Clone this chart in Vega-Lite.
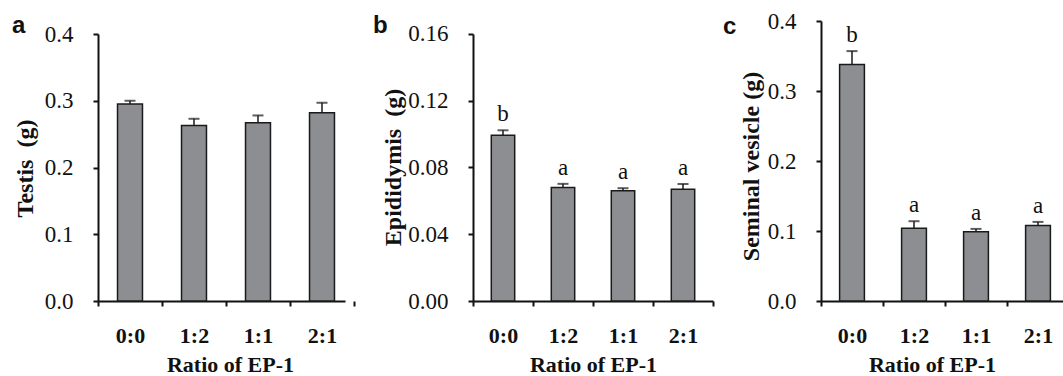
{
  "$schema": "https://vega.github.io/schema/vega-lite/v6.json",
  "autosize": {"type": "none"},
  "padding": {"left": 98, "top": 21, "right": 965, "bottom": 355},
  "background": "white",
  "datasets": {
    "organs": [
      {"organ": "Testis", "ratio": "0:0", "mean": 0.295, "hi": 0.300, "sig": ""},
      {"organ": "Testis", "ratio": "1:2", "mean": 0.263, "hi": 0.273, "sig": ""},
      {"organ": "Testis", "ratio": "1:1", "mean": 0.267, "hi": 0.278, "sig": ""},
      {"organ": "Testis", "ratio": "2:1", "mean": 0.282, "hi": 0.297, "sig": ""},
      {"organ": "Epididymis", "ratio": "0:0", "mean": 0.0993, "hi": 0.1023, "sig": "b"},
      {"organ": "Epididymis", "ratio": "1:2", "mean": 0.0680, "hi": 0.0702, "sig": "a"},
      {"organ": "Epididymis", "ratio": "1:1", "mean": 0.0661, "hi": 0.0676, "sig": "a"},
      {"organ": "Epididymis", "ratio": "2:1", "mean": 0.0670, "hi": 0.0701, "sig": "a"},
      {"organ": "Seminal vesicle", "ratio": "0:0", "mean": 0.338, "hi": 0.357, "sig": "b"},
      {"organ": "Seminal vesicle", "ratio": "1:2", "mean": 0.104, "hi": 0.114, "sig": "a"},
      {"organ": "Seminal vesicle", "ratio": "1:1", "mean": 0.099, "hi": 0.103, "sig": "a"},
      {"organ": "Seminal vesicle", "ratio": "2:1", "mean": 0.108, "hi": 0.113, "sig": "a"}
    ]
  },
  "config": {
    "view": {"stroke": null},
    "axis": {
      "domainColor": "#111111", "domainWidth": 2, "tickColor": "#111111", "tickWidth": 2, "tickSize": 5,
      "labelColor": "#111111", "titleColor": "#111111", "grid": false,
      "labelFont": "Liberation Serif", "titleFont": "Liberation Serif", "titleFontWeight": "bold"
    },
    "axisY": {"labelFontSize": 23, "labelPadding": 20, "titleFontSize": 24, "titlePadding": 7},
    "axisX": {"labelAngle": 0, "labelFontSize": 22, "labelFontWeight": "bold", "labelPadding": 19, "titleFontSize": 22, "titlePadding": 8, "tickBand": "extent"},
    "title": {"anchor": "start", "frame": "group", "font": "Liberation Sans", "fontSize": 24, "fontWeight": "bold", "color": "#111111", "offset": 0, "baseline": "alphabetic"}
  },
  "spacing": 108,
  "bounds": "flush",
  "hconcat": [
    {
      "width": 267, "height": 280,
      "title": {"text": "a", "dx": -86, "dy": 21},
      "data": {"name": "organs"},
      "transform": [{"filter": "datum.organ == 'Testis'"}],
      "encoding": {
        "x": {"field": "ratio", "type": "nominal", "sort": ["0:0", "1:2", "1:1", "2:1"],
              "scale": {"paddingInner": 0, "paddingOuter": 0.086, "align": 0},
              "axis": {"title": "Ratio of EP-1", "domainDash": [247, 100], "titleX": 132}}
      },
      "layer": [
        {"mark": {"type": "bar", "width": {"band": 0.39}, "fill": "#8d8e92", "stroke": "#1a1a1a", "strokeWidth": 1.5},
         "encoding": {"y": {"field": "mean", "type": "quantitative", "scale": {"domain": [0, 0.41948], "nice": false},
                            "axis": {"title": "Testis\u00a0\u00a0(g)", "values": [0, 0.1, 0.2, 0.3, 0.4], "format": ".1f", "domainDash": [267, 100], "titleY": 147}}}},
        {"mark": {"type": "rule", "color": "#1a1a1a", "strokeWidth": 1.5},
         "encoding": {"y": {"field": "mean", "type": "quantitative"}, "y2": {"field": "hi"}}},
        {"mark": {"type": "tick", "color": "#1a1a1a", "size": 11, "thickness": 2},
         "encoding": {"y": {"field": "hi", "type": "quantitative"}}}
      ]
    },
    {
      "width": 240, "height": 280,
      "title": {"text": "b", "dx": -100, "dy": 21},
      "data": {"name": "organs"},
      "transform": [{"filter": "datum.organ == 'Epididymis'"}],
      "encoding": {
        "x": {"field": "ratio", "type": "nominal", "sort": ["0:0", "1:2", "1:1", "2:1"],
              "scale": {"paddingInner": 0, "paddingOuter": 0},
              "axis": {"title": "Ratio of EP-1"}}
      },
      "layer": [
        {"mark": {"type": "bar", "width": {"band": 0.39}, "fill": "#8d8e92", "stroke": "#1a1a1a", "strokeWidth": 1.5},
         "encoding": {"y": {"field": "mean", "type": "quantitative", "scale": {"domain": [0, 0.16779], "nice": false},
                            "axis": {"title": "Epididymis\u00a0\u00a0(g)", "values": [0, 0.04, 0.08, 0.12, 0.16], "format": ".2f", "domainDash": [267, 100], "titleY": 146, "titlePadding": 2}}}},
        {"mark": {"type": "rule", "color": "#1a1a1a", "strokeWidth": 1.5},
         "encoding": {"y": {"field": "mean", "type": "quantitative"}, "y2": {"field": "hi"}}},
        {"mark": {"type": "tick", "color": "#1a1a1a", "size": 11, "thickness": 2},
         "encoding": {"y": {"field": "hi", "type": "quantitative"}}},
        {"mark": {"type": "text", "font": "Liberation Serif", "fontSize": 23, "color": "#111111", "baseline": "alphabetic", "dy": -9},
         "encoding": {"y": {"field": "hi", "type": "quantitative"}, "text": {"field": "sig"}}}
      ]
    },
    {
      "width": 248, "height": 280,
      "title": {"text": "c", "dx": -98, "dy": 33},
      "data": {"name": "organs"},
      "transform": [{"filter": "datum.organ == 'Seminal vesicle'"}],
      "encoding": {
        "x": {"field": "ratio", "type": "nominal", "sort": ["0:0", "1:2", "1:1", "2:1"],
              "scale": {"paddingInner": 0, "paddingOuter": 0},
              "axis": {"title": "Ratio of EP-1", "titleX": 111}}
      },
      "layer": [
        {"mark": {"type": "bar", "width": {"band": 0.4}, "fill": "#8d8e92", "stroke": "#1a1a1a", "strokeWidth": 1.5},
         "encoding": {"y": {"field": "mean", "type": "quantitative", "scale": {"domain": [0, 0.4], "nice": false},
                            "axis": {"title": "Seminal vesicle (g)", "values": [0, 0.1, 0.2, 0.3, 0.4], "format": ".1f", "titlePadding": 4, "titleY": 145}}}},
        {"mark": {"type": "rule", "color": "#1a1a1a", "strokeWidth": 1.5},
         "encoding": {"y": {"field": "mean", "type": "quantitative"}, "y2": {"field": "hi"}}},
        {"mark": {"type": "tick", "color": "#1a1a1a", "size": 11, "thickness": 2},
         "encoding": {"y": {"field": "hi", "type": "quantitative"}}},
        {"mark": {"type": "text", "font": "Liberation Serif", "fontSize": 23, "color": "#111111", "baseline": "alphabetic", "dy": -9},
         "encoding": {"y": {"field": "hi", "type": "quantitative"}, "text": {"field": "sig"}}}
      ]
    }
  ]
}
